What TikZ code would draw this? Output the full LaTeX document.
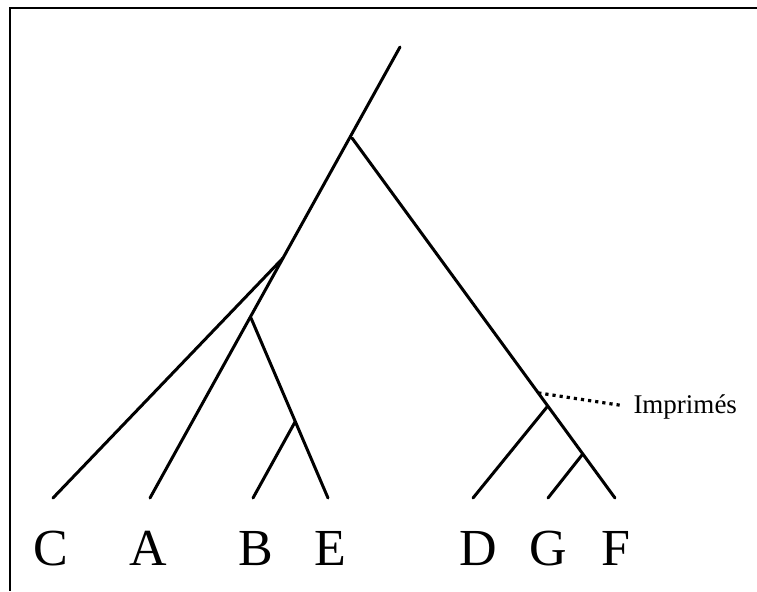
\documentclass[tikz,border=0pt]{standalone}
\usepackage{fontspec}
\setmainfont{Liberation Serif}
\usetikzlibrary{calc}

\begin{document}
\begin{tikzpicture}[x=0.5pt, y=-0.5pt, line width=1.5pt, line cap=round]
        \tikzset{
            leaf/.style={anchor=base, inner sep=0pt, font=\fontsize{26}{30}\selectfont},
            note/.style={anchor=west, inner sep=0pt, font=\fontsize{13.5}{15}\selectfont}
        }
        \useasboundingbox (0,0) rectangle (757,591);

        % Frame (top and left edges)
        \draw[line width=1pt, line cap=butt] (757,8) -- (10,8) -- (10,591);

        % Inner nodes of the tree
        \coordinate (root) at (400,47);
        \coordinate (n1) at (352,138);
        \coordinate (n3) at (251,318);
        \coordinate (n4) at (295,422);
        \coordinate (n5) at (547,407);
        \coordinate (n6) at (582,455);

        % Leaf ends
        \coordinate (c) at (53,498);
        \coordinate (a) at (150,498);
        \coordinate (b) at (253,498);
        \coordinate (e) at (328,498);
        \coordinate (d) at (473,498);
        \coordinate (g) at (548,498);
        \coordinate (f) at (615,498);

        % Main trunk down to A
        \draw (root) -- (a);
        \coordinate (n2) at ($(root)!0.468!(a)$);
        \draw (n2) -- (c);
        \draw (n3) -- (e);
        \draw (n4) -- (b);

        % Right branch down to F
        \draw (n1) -- (f);
        \draw (n5) -- (d);
        \draw (n6) -- (g);

        % Label with dotted pointer
        \coordinate (mark) at ($(n1)!0.708!(f)$);
        \node[note] (imp) at (632,407) {Imprimés};
        \draw[line width=1.6pt, dotted, line cap=butt, shorten >=5pt] (mark) -- (imp.west);

        % Leaf letters
        \node[leaf] (lc) at (51,565) {C};
        \node[leaf] (la) at (148,565) {A};
        \node[leaf] (lb) at (256,565) {B};
        \node[leaf] (le) at (330,565) {E};
        \node[leaf] (ld) at (478,565) {D};
        \node[leaf] (lg) at (548,565) {G};
        \node[leaf] (lf) at (616,565) {F};

\end{tikzpicture}
\end{document}
